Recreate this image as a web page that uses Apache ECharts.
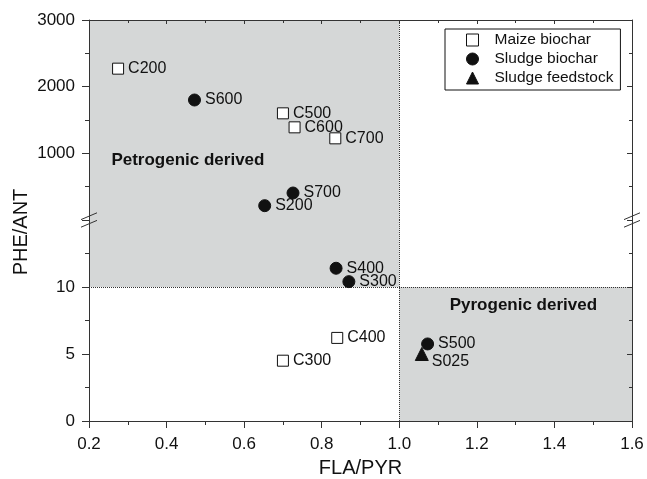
<!DOCTYPE html>
<html>
<head>
<meta charset="utf-8">
<script src="https://cdn.jsdelivr.net/npm/echarts@6/dist/echarts.min.js"></script>
<style>
  html, body { margin: 0; padding: 0; background: #fff; }
  #main { width: 647px; height: 479px; }
</style>
</head>
<body>
<div id="main"></div>
<script>
  // values
  var maizeNames = ['C200', 'C300', 'C400', 'C500', 'C600', 'C700'];
  var maizeFla = [0.275, 0.70, 0.84, 0.70, 0.73, 0.835];
  var maizePhe = [2270, 4.5, 6.2, 1600, 1390, 1225];

  var sludgeNames = ['S200', 'S300', 'S400', 'S500', 'S600', 'S700'];
  var sludgeFla = [0.653, 0.87, 0.837, 1.073, 0.472, 0.726];
  var sludgePhe = [215, 10.4, 11.4, 5.75, 1800, 405];

  var feedNames = ['S025'];
  var feedFla = [1.058];
  var feedPhe = [5.0];

  var lowTicks = [0, 5, 10];
  var highTicks = [1000, 2000, 3000];

  var flaLimit = 1.0;   // FLA/PYR boundary
  var pheLimit = 10;    // PHE/ANT boundary
  var lowMax = 15;      // top of the lower (broken) segment

  var font = "'Liberation Sans', Arial, sans-serif";
  var ink = '#111';
  var axisInk = '#333';
  var shade = '#d5d7d7';

  function split(names, xs, ys, upper) {
    var out = [];
    names.forEach(function (n, i) {
      if ((ys[i] > lowMax) === upper) {
        var item = { name: n, value: [xs[i], ys[i]] };
        if (n === 'S025') item.label = { offset: [-1, 8] };
        out.push(item);
      }
    });
    return out;
  }

  var pointLabel = {
    show: true, position: 'right', distance: 4, formatter: '{b}',
    fontSize: 16, color: ink, fontFamily: font
  };

  var groups = [
    { name: 'Maize biochar', names: maizeNames, xs: maizeFla, ys: maizePhe,
      symbol: 'rect', size: 11, style: { color: '#fff', borderColor: ink, borderWidth: 1, opacity: 1 } },
    { name: 'Sludge biochar', names: sludgeNames, xs: sludgeFla, ys: sludgePhe,
      symbol: 'circle', size: 12, style: { color: ink, borderColor: ink, borderWidth: 1, opacity: 1 } },
    { name: 'Sludge feedstock', names: feedNames, xs: feedFla, ys: feedPhe,
      symbol: 'triangle', size: 13, style: { color: ink, borderColor: ink, borderWidth: 1, opacity: 1 } }
  ];

  var dotted = { type: 'dotted', color: '#333', width: 1 };

  var series = [
    {
      type: 'scatter', xAxisIndex: 0, yAxisIndex: 0, data: [], silent: true,
      markArea: {
        silent: true, itemStyle: { color: shade },
        data: [[{ xAxis: 0.2, yAxis: 0 }, { xAxis: flaLimit, yAxis: 3000 }]]
      },
      markLine: {
        silent: true, symbol: ['none', 'none'], label: { show: false },
        lineStyle: dotted,
        data: [{ xAxis: flaLimit }]
      }
    },
    {
      type: 'scatter', xAxisIndex: 1, yAxisIndex: 2, data: [], silent: true,
      markArea: {
        silent: true, itemStyle: { color: shade },
        data: [
          [{ xAxis: 0.2, yAxis: pheLimit }, { xAxis: flaLimit, yAxis: lowMax }],
          [{ xAxis: flaLimit, yAxis: 0 }, { xAxis: 1.6, yAxis: pheLimit }]
        ]
      },
      markLine: {
        silent: true, symbol: ['none', 'none'], label: { show: false },
        lineStyle: dotted,
        data: [{ xAxis: flaLimit }, { yAxis: pheLimit }]
      }
    }
  ];

  groups.forEach(function (g) {
    [true, false].forEach(function (upper) {
      series.push({
        name: g.name, type: 'scatter',
        xAxisIndex: upper ? 0 : 1, yAxisIndex: upper ? 0 : 2,
        symbol: g.symbol, symbolSize: g.size, symbolKeepAspect: true,
        itemStyle: g.style, label: pointLabel, z: 5,
        data: split(g.names, g.xs, g.ys, upper)
      });
    });
  });

  function yAxisOf(grid, pos, max, interval, labels) {
    var inside = pos === 'right';
    return {
      type: 'value', gridIndex: grid, position: pos, z: 10,
      min: 0, max: max, interval: interval,
      axisLine: { show: true, onZero: false, lineStyle: { color: axisInk, width: 1 } },
      axisTick: { show: true, inside: inside, length: inside ? 5 : 7, lineStyle: { color: axisInk } },
      minorTick: { show: true, splitNumber: 2, length: inside ? 3 : 4, lineStyle: { color: axisInk } },
      splitLine: { show: false },
      axisLabel: {
        show: !inside, margin: 14, fontSize: 17, color: ink, fontFamily: font,
        formatter: function (v) { return labels.indexOf(v) >= 0 ? String(v) : ''; }
      }
    };
  }

  var option = {
    animation: false,
    backgroundColor: '#fff',
    grid: [
      { left: 89, right: 15, top: 20, height: 200 },
      { left: 89, right: 15, top: 220, bottom: 58 }
    ],
    xAxis: [
      {
        type: 'value', gridIndex: 0, position: 'top', z: 10,
        min: 0.2, max: 1.6, interval: 0.2,
        axisLine: { show: true, onZero: false, lineStyle: { color: axisInk, width: 1 } },
        axisTick: { show: true, inside: true, length: 4, lineStyle: { color: axisInk } },
        minorTick: { show: true, splitNumber: 2, length: 3, lineStyle: { color: axisInk } },
        splitLine: { show: false },
        axisLabel: { show: false }
      },
      {
        type: 'value', gridIndex: 1, position: 'bottom', z: 10,
        min: 0.2, max: 1.6, interval: 0.2,
        axisLine: { show: true, onZero: false, lineStyle: { color: axisInk, width: 1 } },
        axisTick: { show: true, length: 7, lineStyle: { color: axisInk } },
        minorTick: { show: true, splitNumber: 2, length: 4, lineStyle: { color: axisInk } },
        splitLine: { show: false },
        axisLabel: {
          margin: 15, fontSize: 17, color: ink, fontFamily: font,
          formatter: function (v) { return v.toFixed(1); }
        },
        name: 'FLA/PYR', nameLocation: 'middle', nameGap: 37,
        nameTextStyle: { fontSize: 20, color: ink, fontFamily: font }
      }
    ],
    yAxis: [
      yAxisOf(0, 'left', 3000, 1000, highTicks),
      yAxisOf(0, 'right', 3000, 1000, []),
      yAxisOf(1, 'left', lowMax, 5, lowTicks),
      yAxisOf(1, 'right', lowMax, 5, [])
    ],
    legend: {
      data: groups.map(function (g) { return g.name; }),
      orient: 'vertical', left: 445, top: 29,
      backgroundColor: '#fff', borderColor: ink, borderWidth: 1, borderRadius: 0,
      padding: [2, 7, 3, 21], itemGap: 1, itemWidth: 12, itemHeight: 12,
      symbolKeepAspect: true,
      itemStyle: { borderWidth: 1 },
      textStyle: { fontSize: 15.5, color: ink, fontFamily: font, lineHeight: 18, padding: [0, 0, 0, 11] }
    },
    series: series
  };

  var chart = echarts.init(document.getElementById('main'));
  chart.setOption(option);

  // axis-break marks, region names and the y axis name
  var bl = chart.convertToPixel({ xAxisIndex: 1, yAxisIndex: 2 }, [0.2, lowMax]);
  var br = chart.convertToPixel({ xAxisIndex: 1, yAxisIndex: 2 }, [1.6, lowMax]);
  var petro = chart.convertToPixel({ xAxisIndex: 0, yAxisIndex: 0 }, [0.455, 900]);
  var pyro = chart.convertToPixel({ xAxisIndex: 1, yAxisIndex: 2 }, [1.32, 8.6]);

  function slashes(p) {
    return [-3.8, 3.8].map(function (dy) {
      return {
        type: 'line', z: 100,
        shape: { x1: p[0] - 8, y1: p[1] + dy + 3.4, x2: p[0] + 8, y2: p[1] + dy - 3.4 },
        style: { stroke: axisInk, lineWidth: 1 }
      };
    });
  }

  function label(p, text) {
    return {
      type: 'text', z: 100, x: p[0], y: p[1],
      style: {
        text: text, fill: ink, font: 'bold 17px ' + font,
        align: 'center', verticalAlign: 'middle'
      }
    };
  }

  chart.setOption({
    graphic: slashes(bl).concat(slashes(br)).concat([
      label(petro, 'Petrogenic derived'),
      label(pyro, 'Pyrogenic derived'),
      {
        type: 'text', z: 100, x: 21, y: (bl[1] + 12), rotation: Math.PI / 2,
        style: {
          text: 'PHE/ANT', fill: ink, font: '20px ' + font,
          align: 'center', verticalAlign: 'middle'
        }
      }
    ])
  });
</script>
</body>
</html>
